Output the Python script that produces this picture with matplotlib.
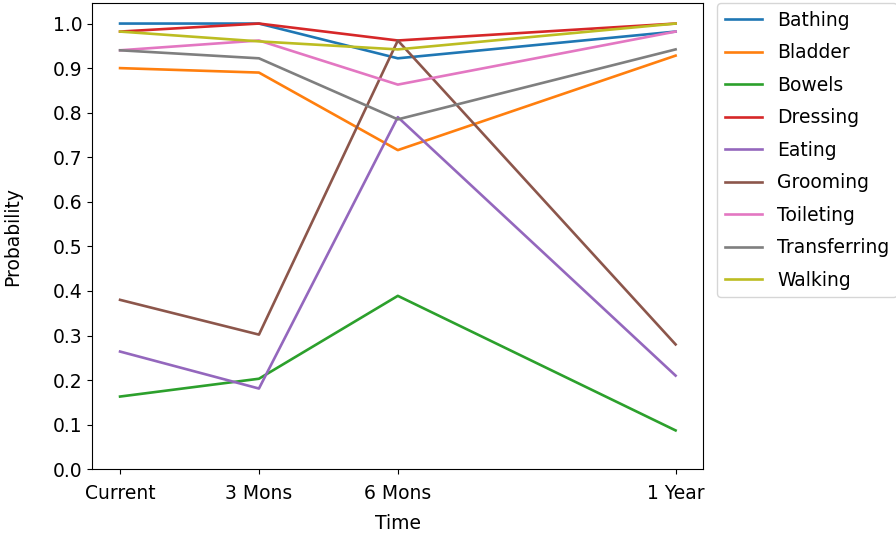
import matplotlib
matplotlib.use("Agg")
import matplotlib.pyplot as plt

# months from now
months = [0, 3, 6, 12]
tick_labels = ["Current", "3 Mons", "6 Mons", "1 Year"]

bathing = [1.00, 1.00, 0.922, 0.982]
bladder = [0.90, 0.89, 0.716, 0.928]
bowels = [0.163, 0.203, 0.389, 0.087]
dressing = [0.982, 1.00, 0.962, 1.00]
eating = [0.264, 0.181, 0.79, 0.21]
grooming = [0.38, 0.302, 0.962, 0.28]
toileting = [0.94, 0.962, 0.863, 0.982]
transferring = [0.94, 0.922, 0.785, 0.942]
walking = [0.982, 0.96, 0.942, 1.00]

series = {
    "Bathing": bathing,
    "Bladder": bladder,
    "Bowels": bowels,
    "Dressing": dressing,
    "Eating": eating,
    "Grooming": grooming,
    "Toileting": toileting,
    "Transferring": transferring,
    "Walking": walking,
}

plt.rcParams["font.size"] = 13.5

fig = plt.figure(figsize=(8.96, 5.35), dpi=100)
ax = fig.add_axes([0.103, 0.123, 0.682, 0.871])

for name, vals in series.items():
    ax.plot(months, vals, label=name, linewidth=1.9)

ax.set_ylim(bottom=0)
ax.set_xticks(months)
ax.set_xticklabels(tick_labels)
ax.set_yticks([i / 10 for i in range(11)])
ax.tick_params(axis="x", pad=7)
ax.set_xlabel("Time", labelpad=8)
ax.set_ylabel("Probability", labelpad=22)

ax.legend(loc="upper left", bbox_to_anchor=(1.023, 1.0), borderaxespad=0,
          labelspacing=0.72)

fig.savefig("out.png", dpi=100)
